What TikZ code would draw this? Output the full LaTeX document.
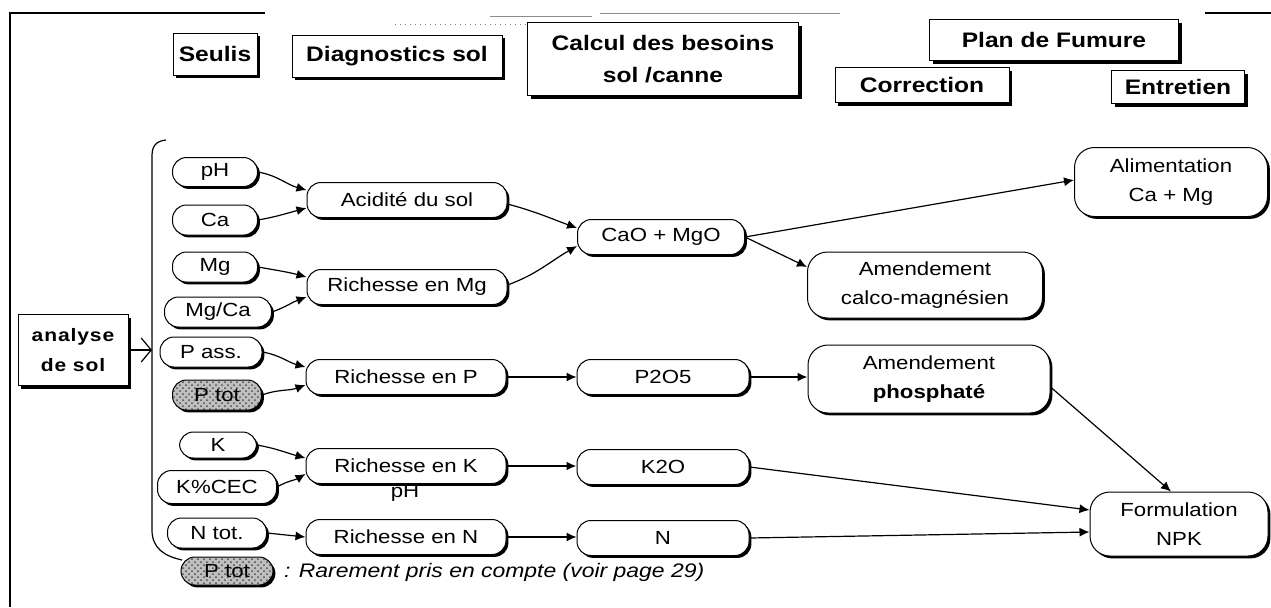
\documentclass[tikz,border=0pt]{standalone}
\usepackage{fontspec}
\setmainfont{Liberation Sans}[FakeStretch=1.17]
\usetikzlibrary{arrows.meta,shadows,patterns}
\newcommand\mynodefont{\fontsize{9.5}{14.5}\selectfont}
\newcommand\myhdrfont{\fontsize{10.5}{16}\selectfont\bfseries}
\begin{document}
\begin{tikzpicture}[x=0.5pt,y=-0.5pt,
  shd/.style={drop shadow={shadow xshift=1.2pt,shadow yshift=-1.2pt,fill=black,opacity=1}},
  hshd/.style={drop shadow={shadow xshift=1.5pt,shadow yshift=-1.5pt,fill=black,opacity=1}},
  inp/.style={draw,fill=white,rounded corners=7pt,shd,inner sep=1pt,font=\mynodefont,line width=0.5pt},
  rare/.style={preaction={fill=black!25},pattern=crosshatch dots,pattern color=black!70},
  diagbox/.style={draw,fill=white,rounded corners=7pt,shd,inner sep=1pt,font=\mynodefont,
    minimum width=100pt,minimum height=17.5pt,line width=0.5pt},
  calcbox/.style={diagbox,minimum width=86pt},
  bigbox/.style={draw,fill=white,rounded corners=10pt,shd,inner sep=1pt,font=\mynodefont,
    align=center,line width=0.5pt},
  hdr/.style={draw,fill=white,hshd,inner sep=1pt,font=\myhdrfont,align=center,line width=0.4pt},
  arr/.style={line width=0.6pt,-{Latex[length=5pt,width=4.5pt]}},
]
\useasboundingbox (0,0) rectangle (1271,607);

% page frame
\draw[line width=0.6pt] (10,607) -- (10,13) -- (265,13);
\draw[line width=0.5pt,black!45] (600,13) -- (840,13);
\draw[line width=0.5pt,black!45] (490,16) -- (592,16);
\draw[line width=0.6pt] (1205,13) -- (1271,13);
\draw[black!50,dotted,line width=0.5pt] (395,24) -- (528,24);

% column headings
\node[hdr,minimum width=42pt,minimum height=21pt] (seu) at (215,54) {Seulis};
\node[hdr,minimum width=105pt,minimum height=21pt] (dia) at (397,56) {Diagnostics sol};
\node[hdr,minimum width=135.5pt,minimum height=36.5pt] (cal) at (663,59) {Calcul des besoins\\sol /canne};
\node[hdr,minimum width=124.5pt,minimum height=20.5pt] (plan) at (1054,40) {Plan de Fumure};
\node[hdr,minimum width=87pt,minimum height=17.5pt] (corr) at (922,85) {Correction};
\node[hdr,minimum width=66.5pt,minimum height=16.5pt] (entr) at (1178,87) {Entretien};

% soil analysis and the brace of measurements
\node[hdr,minimum width=55pt,minimum height=35.5pt,
  font=\fontsize{9}{15}\selectfont\bfseries\addfontfeature{LetterSpace=5}] (ana) at (73,350) {analyse\\de sol};
\draw[line width=0.6pt] (166,140) .. controls (156,141) and (152,146) .. (152,156)
  -- (152,530) .. controls (152,548) and (164,556) .. (182,560);
\coordinate (brk) at (152,350);
\draw[line width=0.6pt,-{Straight Barb[length=5pt,width=12pt]}] (ana.east) -- (brk);

% measured values
\node[inp,minimum width=42.5pt,minimum height=14.5pt] (ph) at (215,172) {pH};
\node[inp,minimum width=42.5pt,minimum height=15pt] (ca) at (215,220) {Ca};
\node[inp,minimum width=42.5pt,minimum height=15pt] (mg) at (215,267) {Mg};
\node[inp,minimum width=53.5pt,minimum height=15pt] (mgca) at (218,312) {Mg/Ca};
\node[inp,minimum width=51pt,minimum height=15pt] (pass) at (211,352) {P ass.};
\node[inp,rare,minimum width=44.5pt,minimum height=15pt] (ptot) at (217,395) {P tot};
\node[inp,minimum width=38.5pt,minimum height=13pt] (k) at (218,445) {K};
\node[inp,minimum width=59.5pt,minimum height=16.5pt] (kcec) at (217,487) {K\%CEC};
\node[inp,minimum width=49.5pt,minimum height=15pt] (ntot) at (217,533) {N tot.};

% diagnostics
\node[font=\mynodefont] (stray) at (405,493) {pH};
\node[diagbox] (acid) at (407,200) {Acidité du sol};
\node[diagbox] (rmg) at (407,287) {Richesse en Mg};
\node[diagbox] (rp) at (406,377) {Richesse en P};
\node[diagbox] (rk) at (406,466) {Richesse en K};
\node[diagbox] (rn) at (406,537) {Richesse en N};

% needs
\node[calcbox,minimum width=83.5pt] (cao) at (661,237) {CaO + MgO};
\node[calcbox] (p2o5) at (663,377) {P2O5};
\node[calcbox] (k2o) at (663,467) {K2O};
\node[calcbox] (nn) at (663,538) {N};

% fertilisation plan
\node[bigbox,minimum width=96.5pt,minimum height=34.5pt] (alim) at (1171,182) {Alimentation\\Ca + Mg};
\node[bigbox,minimum width=117.5pt,minimum height=33pt] (amcm) at (925,285) {Amendement\\calco-magnésien};
\node[bigbox,minimum width=121pt,minimum height=34pt] (amp) at (929,379) {Amendement\\\textbf{phosphaté}};
\node[bigbox,minimum width=89pt,minimum height=32pt] (form) at (1179,524) {Formulation\\NPK};

% legend
\node[inp,rare,minimum width=46pt,minimum height=14pt] (leg) at (227,571) {P tot};
\node[anchor=west,font=\fontsize{9.8}{12}\selectfont\itshape] (legtxt) at (277,572)
  {: Rarement pris en compte (voir page 29)};

% connectors: measurements to diagnostics
\draw[arr] (ph.east) to[out=-10,in=165] ([yshift=5pt]acid.west);
\draw[arr] (ca.east) to[out=10,in=-165] ([yshift=-4pt]acid.west);
\draw[arr] (mg.east) to[out=-10,in=165] ([yshift=5pt]rmg.west);
\draw[arr] (mgca.east) to[out=20,in=-160] ([yshift=-5pt]rmg.west);
\draw[arr] (pass.east) to[out=-10,in=165] ([yshift=5pt]rp.west);
\draw[arr] (ptot.east) to[out=20,in=-160] ([yshift=-4pt]rp.west);
\draw[arr] (k.east) to[out=-10,in=165] ([yshift=4pt]rk.west);
\draw[arr] (kcec.east) to[out=30,in=-150] ([yshift=-4pt]rk.west);
\draw[arr] (ntot.east) -- (rn.west);

% diagnostics to needs
\draw[arr] ([yshift=-2pt]acid.east) to[out=-15,in=160] ([yshift=4.5pt]cao.west);
\draw[arr] ([yshift=1pt]rmg.east) to[out=20,in=-150] ([yshift=-4.5pt]cao.west);
\draw[arr] (rp.east) -- (rp.east -| p2o5.west);
\draw[arr,line width=1.4pt] (rk.east) -- (rk.east -| k2o.west);
\draw[arr] (rn.east) -- (rn.east -| nn.west);

% needs to fertilisation plan
\draw[arr] (cao.east) -- ([yshift=1pt]alim.west);
\draw[arr] (cao.east) -- ([yshift=9pt]amcm.west);
\draw[arr,line width=0.9pt] (p2o5.east) -- (p2o5.east -| amp.west);
\draw[arr] ([yshift=-4pt]amp.east) -- ([xshift=-4pt]form.north);
\draw[arr] (k2o.east) -- ([yshift=7pt]form.west);
\draw[arr] (nn.east) -- ([yshift=-4pt]form.west);
\end{tikzpicture}
\end{document}
